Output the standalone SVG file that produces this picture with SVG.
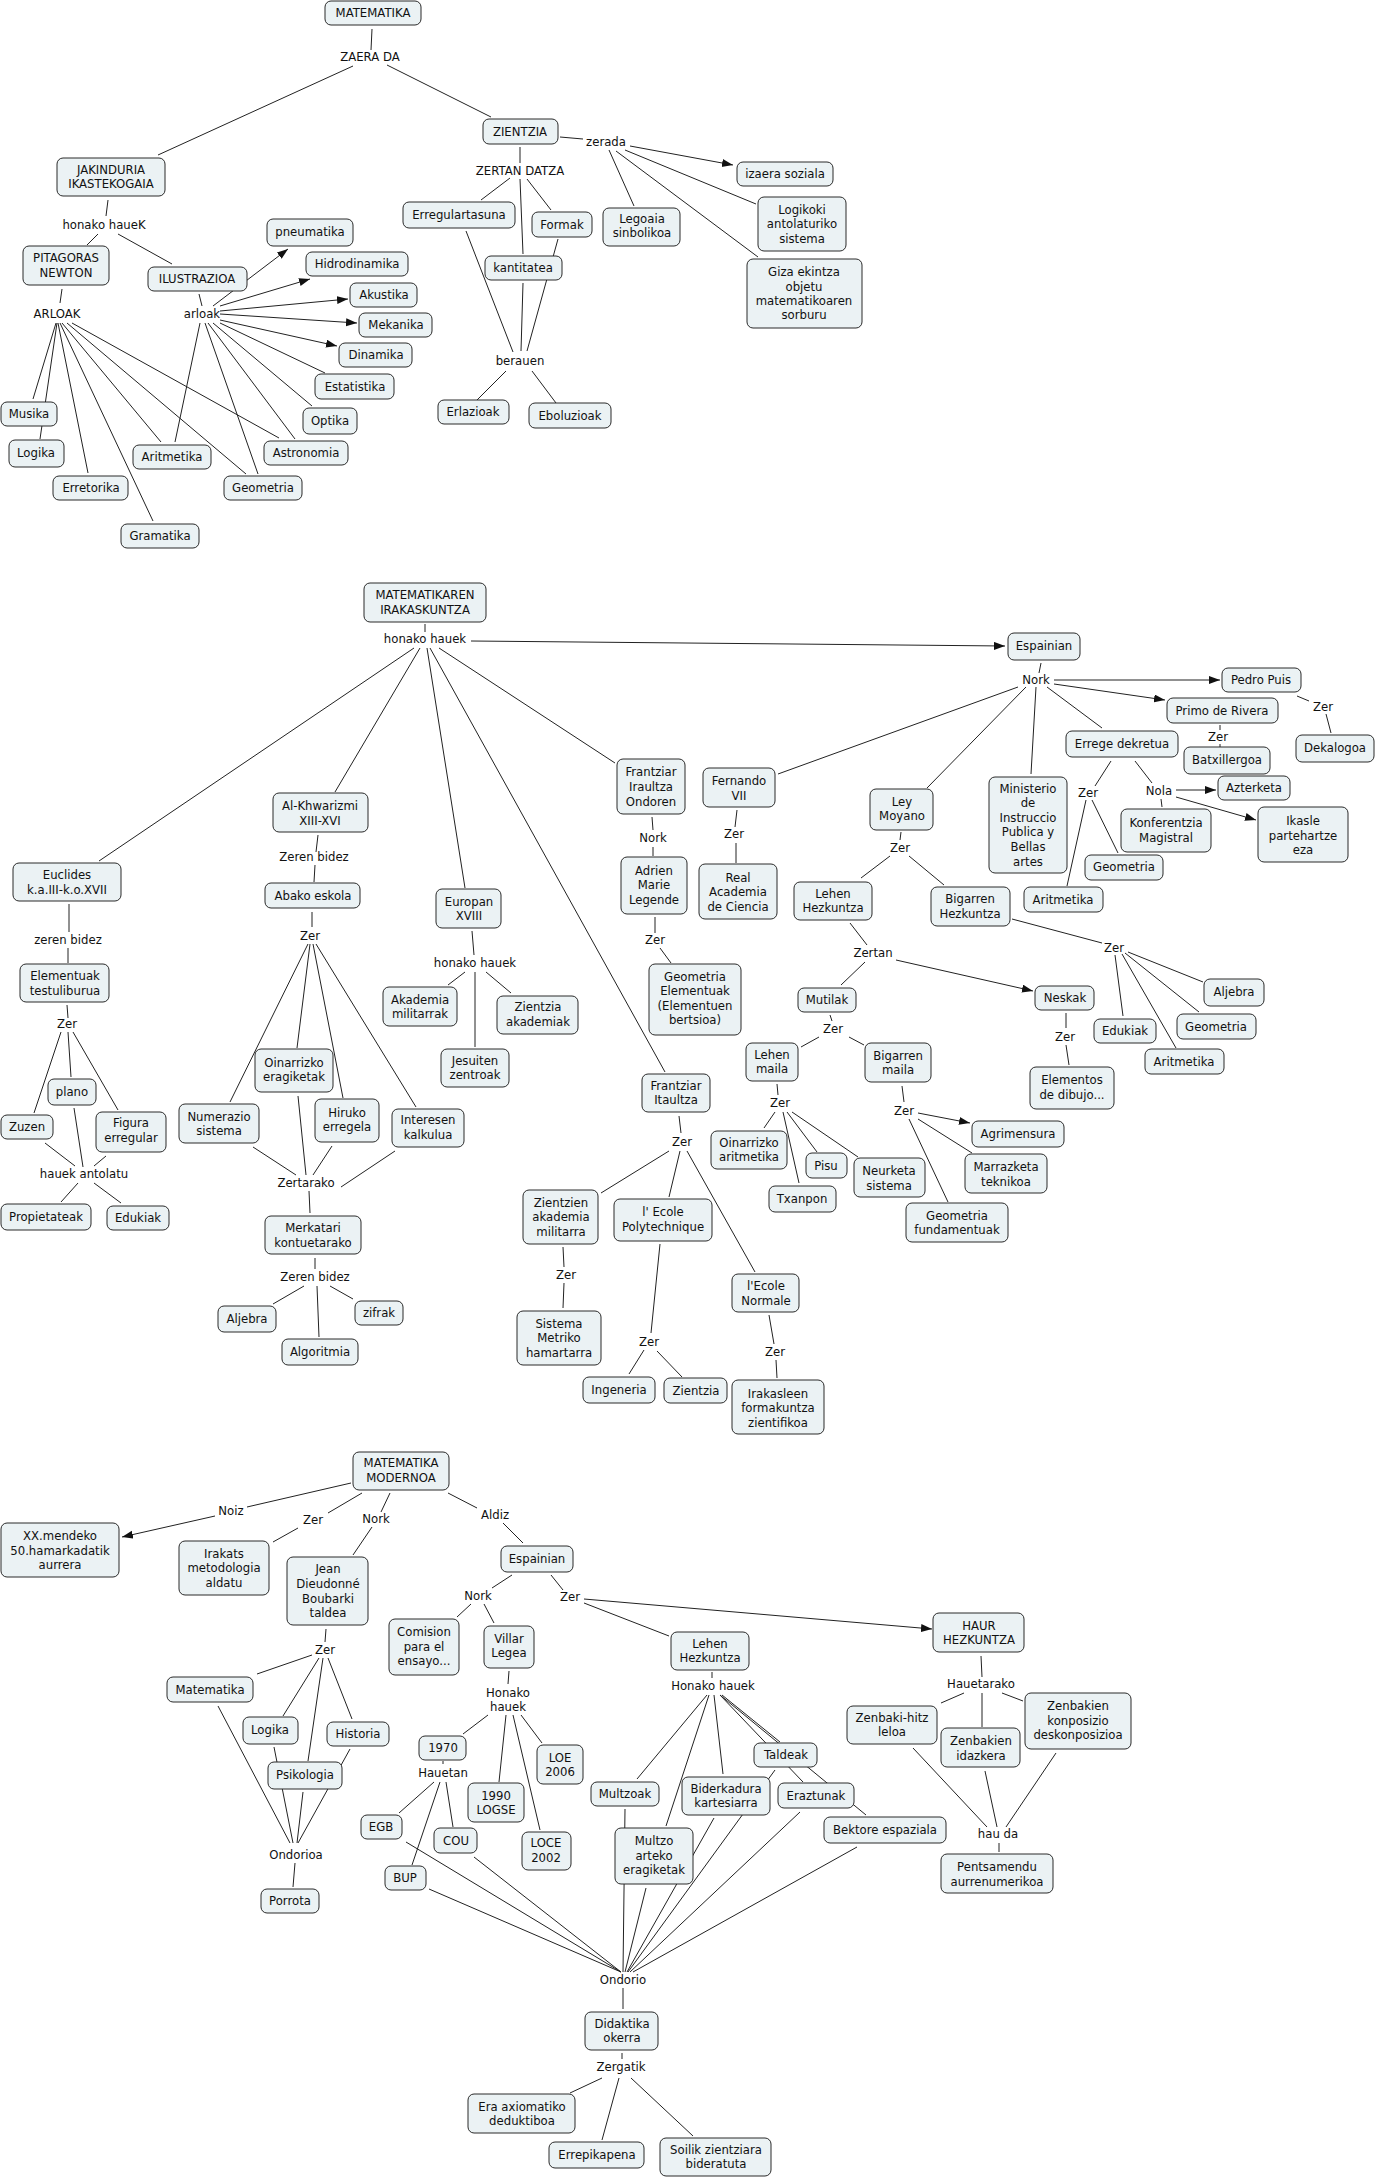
<svg xmlns="http://www.w3.org/2000/svg" width="1377" height="2179" viewBox="0 0 1377 2179">
<style>
.nd rect{fill:#ebf2f4;stroke:#2a2a2a;stroke-width:1;rx:6px;ry:6px}
text{font-family:"DejaVu Sans",Verdana,sans-serif;font-size:11.7px;fill:#111;text-anchor:middle}
#links line{stroke:#222;stroke-width:1}
#links line.ar{marker-end:url(#ah)}
</style>
<defs>
<marker id="ah" markerWidth="12" markerHeight="9" refX="11" refY="4" orient="auto" markerUnits="userSpaceOnUse"><path d="M0,0 L11,4 L0,8 z" fill="#111"/></marker>
</defs>
<rect width="1377" height="2179" fill="#fff"/>
<g id="links">
<!-- section 1 -->
<line x1="372" y1="29" x2="371" y2="50"/>
<line x1="353" y1="66" x2="158" y2="155"/>
<line x1="387" y1="65" x2="491" y2="117"/>
<line x1="108" y1="200" x2="106" y2="216"/>
<line x1="98" y1="234" x2="87" y2="245"/>
<line x1="118" y1="234" x2="172" y2="264"/>
<line x1="62" y1="289" x2="60" y2="303"/>
<line x1="199" y1="294" x2="202" y2="306"/>
<line class="ar" x1="213" y1="306" x2="288" y2="249"/>
<line class="ar" x1="220" y1="306" x2="310" y2="279"/>
<line class="ar" x1="220" y1="311" x2="348" y2="299"/>
<line class="ar" x1="220" y1="314" x2="357" y2="323"/>
<line class="ar" x1="220" y1="320" x2="337" y2="346"/>
<line x1="220" y1="323" x2="325" y2="373"/>
<line x1="213" y1="323" x2="312" y2="406"/>
<line x1="208" y1="323" x2="295" y2="439"/>
<line x1="205" y1="323" x2="258" y2="474"/>
<line x1="200" y1="323" x2="175" y2="442"/>
<line x1="56" y1="323" x2="33" y2="399"/>
<line x1="57" y1="323" x2="40" y2="439"/>
<line x1="58" y1="323" x2="88" y2="473"/>
<line x1="60" y1="323" x2="153" y2="521"/>
<line x1="62" y1="323" x2="161" y2="442"/>
<line x1="67" y1="323" x2="246" y2="474"/>
<line x1="72" y1="323" x2="279" y2="438"/>
<line x1="560" y1="137" x2="583" y2="139"/>
<line class="ar" x1="630" y1="146" x2="733" y2="165"/>
<line x1="609" y1="150" x2="634" y2="206"/>
<line x1="625" y1="150" x2="756" y2="204"/>
<line x1="616" y1="151" x2="758" y2="257"/>
<line x1="520" y1="147" x2="520" y2="163"/>
<line x1="510" y1="178" x2="481" y2="200"/>
<line x1="527" y1="179" x2="551" y2="210"/>
<line x1="520" y1="179" x2="523" y2="254"/>
<line x1="466" y1="231" x2="513" y2="352"/>
<line x1="523" y1="283" x2="521" y2="351"/>
<line x1="558" y1="239" x2="527" y2="351"/>
<line x1="506" y1="371" x2="477" y2="400"/>
<line x1="532" y1="371" x2="556" y2="403"/>
<!-- section 2 -->
<line x1="425" y1="624" x2="425" y2="632"/>
<line class="ar" x1="471" y1="641" x2="1005" y2="646"/>
<line x1="414" y1="648" x2="99" y2="861"/>
<line x1="420" y1="648" x2="335" y2="792"/>
<line x1="427" y1="648" x2="465" y2="888"/>
<line x1="439" y1="648" x2="615" y2="763"/>
<line x1="430" y1="648" x2="665" y2="1072"/>
<line x1="69" y1="904" x2="69" y2="932"/>
<line x1="68" y1="948" x2="68" y2="963"/>
<line x1="67" y1="1005" x2="68" y2="1018"/>
<line x1="61" y1="1032" x2="34" y2="1113"/>
<line x1="68" y1="1032" x2="71" y2="1077"/>
<line x1="73" y1="1032" x2="118" y2="1110"/>
<line x1="45" y1="1143" x2="75" y2="1166"/>
<line x1="74" y1="1108" x2="83" y2="1167"/>
<line x1="106" y1="1156" x2="94" y2="1166"/>
<line x1="78" y1="1183" x2="61" y2="1202"/>
<line x1="94" y1="1183" x2="121" y2="1203"/>
<line x1="318" y1="835" x2="316" y2="852"/>
<line x1="315" y1="865" x2="314" y2="882"/>
<line x1="312" y1="912" x2="312" y2="927"/>
<line x1="308" y1="944" x2="230" y2="1102"/>
<line x1="310" y1="944" x2="297" y2="1048"/>
<line x1="313" y1="944" x2="343" y2="1098"/>
<line x1="316" y1="944" x2="416" y2="1107"/>
<line x1="253" y1="1147" x2="296" y2="1175"/>
<line x1="298" y1="1096" x2="306" y2="1175"/>
<line x1="332" y1="1146" x2="313" y2="1175"/>
<line x1="395" y1="1151" x2="341" y2="1187"/>
<line x1="309" y1="1191" x2="310" y2="1213"/>
<line x1="315" y1="1258" x2="315" y2="1269"/>
<line x1="304" y1="1286" x2="273" y2="1304"/>
<line x1="317" y1="1286" x2="319" y2="1337"/>
<line x1="330" y1="1286" x2="353" y2="1299"/>
<line x1="472" y1="931" x2="474" y2="955"/>
<line x1="465" y1="972" x2="448" y2="985"/>
<line x1="475" y1="972" x2="475" y2="1047"/>
<line x1="486" y1="972" x2="511" y2="993"/>
<line x1="652" y1="817" x2="653" y2="830"/>
<line x1="653" y1="847" x2="653" y2="856"/>
<line x1="655" y1="917" x2="655" y2="933"/>
<line x1="660" y1="948" x2="671" y2="963"/>
<line x1="679" y1="1116" x2="681" y2="1133"/>
<line x1="669" y1="1151" x2="601" y2="1193"/>
<line x1="680" y1="1151" x2="669" y2="1197"/>
<line x1="687" y1="1151" x2="755" y2="1272"/>
<line x1="563" y1="1247" x2="564" y2="1267"/>
<line x1="564" y1="1283" x2="563" y2="1308"/>
<line x1="660" y1="1244" x2="651" y2="1333"/>
<line x1="644" y1="1350" x2="629" y2="1374"/>
<line x1="657" y1="1351" x2="682" y2="1377"/>
<line x1="769" y1="1315" x2="774" y2="1344"/>
<line x1="776" y1="1360" x2="777" y2="1378"/>
<line x1="1041" y1="663" x2="1039" y2="673"/>
<line class="ar" x1="1054" y1="680" x2="1220" y2="680"/>
<line class="ar" x1="1054" y1="684" x2="1165" y2="700"/>
<line x1="1220" y1="725" x2="1220" y2="730"/>
<line x1="1220" y1="744" x2="1220" y2="747"/>
<line x1="1297" y1="696" x2="1309" y2="701"/>
<line x1="1326" y1="714" x2="1331" y2="733"/>
<line x1="1047" y1="687" x2="1102" y2="728"/>
<line x1="1111" y1="761" x2="1095" y2="786"/>
<line x1="1086" y1="800" x2="1067" y2="886"/>
<line x1="1092" y1="800" x2="1118" y2="853"/>
<line x1="1135" y1="761" x2="1152" y2="783"/>
<line class="ar" x1="1176" y1="790" x2="1216" y2="790"/>
<line class="ar" x1="1176" y1="797" x2="1256" y2="820"/>
<line x1="1161" y1="799" x2="1162" y2="807"/>
<line x1="1036" y1="687" x2="1031" y2="774"/>
<line x1="1026" y1="687" x2="927" y2="788"/>
<line x1="1018" y1="687" x2="778" y2="774"/>
<line x1="737" y1="810" x2="735" y2="827"/>
<line x1="736" y1="843" x2="736" y2="863"/>
<line x1="901" y1="832" x2="900" y2="840"/>
<line x1="890" y1="856" x2="861" y2="878"/>
<line x1="909" y1="856" x2="944" y2="885"/>
<line x1="850" y1="923" x2="867" y2="945"/>
<line x1="865" y1="962" x2="841" y2="985"/>
<line class="ar" x1="896" y1="960" x2="1033" y2="991"/>
<line x1="1012" y1="919" x2="1102" y2="943"/>
<line x1="1128" y1="952" x2="1203" y2="982"/>
<line x1="1125" y1="953" x2="1199" y2="1012"/>
<line x1="1115" y1="955" x2="1123" y2="1016"/>
<line x1="1122" y1="954" x2="1176" y2="1048"/>
<line x1="1066" y1="1013" x2="1066" y2="1028"/>
<line x1="1066" y1="1045" x2="1069" y2="1065"/>
<line x1="830" y1="1015" x2="832" y2="1021"/>
<line x1="819" y1="1037" x2="801" y2="1047"/>
<line x1="849" y1="1037" x2="864" y2="1045"/>
<line x1="777" y1="1084" x2="778" y2="1095"/>
<line x1="775" y1="1112" x2="764" y2="1128"/>
<line x1="783" y1="1112" x2="799" y2="1183"/>
<line x1="787" y1="1112" x2="817" y2="1152"/>
<line x1="792" y1="1112" x2="858" y2="1157"/>
<line x1="902" y1="1086" x2="904" y2="1102"/>
<line class="ar" x1="918" y1="1113" x2="970" y2="1123"/>
<line x1="918" y1="1119" x2="972" y2="1153"/>
<line x1="909" y1="1119" x2="948" y2="1202"/>
<!-- section 3 -->
<line x1="351" y1="1483" x2="247" y2="1507"/>
<line class="ar" x1="215" y1="1516" x2="122" y2="1537"/>
<line x1="362" y1="1493" x2="328" y2="1513"/>
<line x1="298" y1="1528" x2="273" y2="1542"/>
<line x1="390" y1="1493" x2="381" y2="1512"/>
<line x1="372" y1="1527" x2="353" y2="1555"/>
<line x1="448" y1="1493" x2="477" y2="1508"/>
<line x1="503" y1="1523" x2="523" y2="1543"/>
<line x1="326" y1="1629" x2="325" y2="1642"/>
<line x1="312" y1="1655" x2="257" y2="1674"/>
<line x1="319" y1="1658" x2="283" y2="1716"/>
<line x1="323" y1="1658" x2="308" y2="1761"/>
<line x1="328" y1="1658" x2="352" y2="1719"/>
<line x1="218" y1="1706" x2="290" y2="1843"/>
<line x1="274" y1="1747" x2="293" y2="1843"/>
<line x1="303" y1="1792" x2="297" y2="1843"/>
<line x1="350" y1="1749" x2="298" y2="1843"/>
<line x1="295" y1="1863" x2="293" y2="1887"/>
<line x1="512" y1="1575" x2="492" y2="1588"/>
<line x1="551" y1="1575" x2="563" y2="1590"/>
<line x1="471" y1="1604" x2="457" y2="1617"/>
<line x1="484" y1="1604" x2="494" y2="1623"/>
<line x1="509" y1="1671" x2="508" y2="1684"/>
<line x1="488" y1="1715" x2="463" y2="1734"/>
<line x1="506" y1="1715" x2="499" y2="1782"/>
<line x1="513" y1="1715" x2="540" y2="1830"/>
<line x1="521" y1="1715" x2="542" y2="1743"/>
<line x1="443" y1="1761" x2="443" y2="1764"/>
<line x1="434" y1="1782" x2="399" y2="1813"/>
<line x1="440" y1="1782" x2="412" y2="1865"/>
<line x1="446" y1="1782" x2="453" y2="1827"/>
<line x1="406" y1="1842" x2="621" y2="1972"/>
<line x1="429" y1="1889" x2="621" y2="1972"/>
<line x1="474" y1="1857" x2="621" y2="1972"/>
<line x1="584" y1="1603" x2="669" y2="1636"/>
<line class="ar" x1="584" y1="1599" x2="932" y2="1629"/>
<line x1="712" y1="1672" x2="712" y2="1678"/>
<line x1="707" y1="1695" x2="637" y2="1779"/>
<line x1="709" y1="1695" x2="666" y2="1826"/>
<line x1="714" y1="1695" x2="723" y2="1774"/>
<line x1="722" y1="1695" x2="780" y2="1742"/>
<line x1="720" y1="1695" x2="803" y2="1782"/>
<line x1="720" y1="1695" x2="866" y2="1815"/>
<line x1="625" y1="1809" x2="623" y2="1972"/>
<line x1="646" y1="1888" x2="625" y2="1972"/>
<line x1="714" y1="1818" x2="627" y2="1972"/>
<line x1="775" y1="1770" x2="628" y2="1972"/>
<line x1="800" y1="1812" x2="630" y2="1972"/>
<line x1="857" y1="1847" x2="633" y2="1972"/>
<line x1="623" y1="1988" x2="623" y2="2009"/>
<line x1="622" y1="2053" x2="622" y2="2059"/>
<line x1="602" y1="2078" x2="570" y2="2093"/>
<line x1="619" y1="2078" x2="602" y2="2140"/>
<line x1="631" y1="2078" x2="693" y2="2136"/>
<line x1="981" y1="1656" x2="982" y2="1677"/>
<line x1="964" y1="1693" x2="941" y2="1703"/>
<line x1="982" y1="1693" x2="982" y2="1727"/>
<line x1="1002" y1="1693" x2="1023" y2="1701"/>
<line x1="913" y1="1748" x2="987" y2="1827"/>
<line x1="985" y1="1771" x2="997" y2="1827"/>
<line x1="1056" y1="1753" x2="1006" y2="1827"/>
<line x1="999" y1="1843" x2="999" y2="1852"/>
</g>
<g id="link-labels">
<text x="370" y="61">ZAERA DA</text>
<text x="104" y="229">honako haueK</text>
<text x="57" y="318">ARLOAK</text>
<text x="202" y="318">arloak</text>
<text x="606" y="146">zerada</text>
<text x="520" y="175">ZERTAN DATZA</text>
<text x="520" y="365">berauen</text>
<text x="425" y="643">honako hauek</text>
<text x="68" y="944">zeren bidez</text>
<text x="67" y="1028">Zer</text>
<text x="84" y="1178">hauek antolatu</text>
<text x="314" y="861">Zeren bidez</text>
<text x="310" y="940">Zer</text>
<text x="306" y="1187">Zertarako</text>
<text x="315" y="1281">Zeren bidez</text>
<text x="475" y="967">honako hauek</text>
<text x="653" y="842">Nork</text>
<text x="655" y="944">Zer</text>
<text x="682" y="1146">Zer</text>
<text x="566" y="1279">Zer</text>
<text x="649" y="1346">Zer</text>
<text x="775" y="1356">Zer</text>
<text x="734" y="838">Zer</text>
<text x="1036" y="684">Nork</text>
<text x="1218" y="741">Zer</text>
<text x="1323" y="711">Zer</text>
<text x="1088" y="797">Zer</text>
<text x="1159" y="795">Nola</text>
<text x="900" y="852">Zer</text>
<text x="873" y="957">Zertan</text>
<text x="1114" y="952">Zer</text>
<text x="1065" y="1041">Zer</text>
<text x="833" y="1033">Zer</text>
<text x="780" y="1107">Zer</text>
<text x="904" y="1115">Zer</text>
<text x="231" y="1515">Noiz</text>
<text x="313" y="1524">Zer</text>
<text x="376" y="1523">Nork</text>
<text x="495" y="1519">Aldiz</text>
<text x="325" y="1654">Zer</text>
<text x="296" y="1859">Ondorioa</text>
<text x="478" y="1600">Nork</text>
<text x="570" y="1601">Zer</text>
<text><tspan x="508" y="1697">Honako</tspan><tspan x="508" y="1711">hauek</tspan></text>
<text x="443" y="1777">Hauetan</text>
<text x="713" y="1690">Honako hauek</text>
<text x="981" y="1688">Hauetarako</text>
<text x="998" y="1838">hau da</text>
<text x="623" y="1984">Ondorio</text>
<text x="621" y="2071">Zergatik</text>
</g>
<!-- section 1 nodes -->
<g id="n-matematika" class="nd"><rect x="325" y="1" width="96" height="24"/><text x="373" y="17">MATEMATIKA</text></g>
<g id="n-jakinduria" class="nd"><rect x="57" y="158" width="108" height="38"/><text><tspan x="111" y="174">JAKINDURIA</tspan><tspan x="111" y="188">IKASTEKOGAIA</tspan></text></g>
<g id="n-pitagoras" class="nd"><rect x="23" y="246" width="86" height="39"/><text><tspan x="66" y="262">PITAGORAS</tspan><tspan x="66" y="277">NEWTON</tspan></text></g>
<g id="n-ilustrazioa" class="nd"><rect x="148" y="267" width="99" height="24"/><text x="197" y="283">ILUSTRAZIOA</text></g>
<g id="n-pneumatika" class="nd"><rect x="267" y="219" width="86" height="27"/><text x="310" y="236">pneumatika</text></g>
<g id="n-hidrodinamika" class="nd"><rect x="306" y="252" width="102" height="24"/><text x="357" y="268">Hidrodinamika</text></g>
<g id="n-akustika" class="nd"><rect x="350" y="283" width="67" height="24"/><text x="384" y="299">Akustika</text></g>
<g id="n-mekanika" class="nd"><rect x="359" y="313" width="73" height="24"/><text x="396" y="329">Mekanika</text></g>
<g id="n-dinamika" class="nd"><rect x="339" y="343" width="73" height="24"/><text x="376" y="359">Dinamika</text></g>
<g id="n-estatistika" class="nd"><rect x="315" y="374" width="79" height="25"/><text x="355" y="391">Estatistika</text></g>
<g id="n-optika" class="nd"><rect x="303" y="408" width="54" height="26"/><text x="330" y="425">Optika</text></g>
<g id="n-astronomia" class="nd"><rect x="264" y="441" width="84" height="24"/><text x="306" y="457">Astronomia</text></g>
<g id="n-geometria1" class="nd"><rect x="224" y="476" width="78" height="24"/><text x="263" y="492">Geometria</text></g>
<g id="n-aritmetika1" class="nd"><rect x="133" y="445" width="78" height="24"/><text x="172" y="461">Aritmetika</text></g>
<g id="n-gramatika" class="nd"><rect x="121" y="524" width="78" height="24"/><text x="160" y="540">Gramatika</text></g>
<g id="n-erretorika" class="nd"><rect x="53" y="476" width="75" height="24"/><text x="91" y="492">Erretorika</text></g>
<g id="n-logika1" class="nd"><rect x="9" y="440" width="55" height="27"/><text x="36" y="457">Logika</text></g>
<g id="n-musika" class="nd"><rect x="1" y="402" width="56" height="24"/><text x="29" y="418">Musika</text></g>
<g id="n-zientzia" class="nd"><rect x="483" y="119" width="75" height="25"/><text x="520" y="136">ZIENTZIA</text></g>
<g id="n-izaera" class="nd"><rect x="737" y="162" width="96" height="24"/><text x="785" y="178">izaera soziala</text></g>
<g id="n-legoaia" class="nd"><rect x="603" y="208" width="77" height="38"/><text><tspan x="642" y="223">Legoaia</tspan><tspan x="642" y="237">sinbolikoa</tspan></text></g>
<g id="n-logikoki" class="nd"><rect x="758" y="197" width="88" height="54"/><text><tspan x="802" y="214">Logikoki</tspan><tspan x="802" y="228">antolaturiko</tspan><tspan x="802" y="243">sistema</tspan></text></g>
<g id="n-giza" class="nd"><rect x="747" y="259" width="115" height="69"/><text><tspan x="804" y="276">Giza ekintza</tspan><tspan x="804" y="291">objetu</tspan><tspan x="804" y="305">matematikoaren</tspan><tspan x="804" y="319">sorburu</tspan></text></g>
<g id="n-erregulartasuna" class="nd"><rect x="403" y="202" width="112" height="26"/><text x="459" y="219">Erregulartasuna</text></g>
<g id="n-formak" class="nd"><rect x="532" y="212" width="60" height="25"/><text x="562" y="229">Formak</text></g>
<g id="n-kantitatea" class="nd"><rect x="485" y="256" width="77" height="24"/><text x="523" y="272">kantitatea</text></g>
<g id="n-erlazioak" class="nd"><rect x="438" y="400" width="71" height="24"/><text x="473" y="416">Erlazioak</text></g>
<g id="n-eboluzioak" class="nd"><rect x="529" y="403" width="82" height="25"/><text x="570" y="420">Eboluzioak</text></g>
<!-- section 2 nodes -->
<g id="n-irakaskuntza" class="nd"><rect x="364" y="583" width="122" height="39"/><text><tspan x="425" y="599">MATEMATIKAREN</tspan><tspan x="425" y="614">IRAKASKUNTZA</tspan></text></g>
<g id="n-euclides" class="nd"><rect x="13" y="863" width="108" height="38"/><text><tspan x="67" y="879">Euclides</tspan><tspan x="67" y="894">k.a.III-k.o.XVII</tspan></text></g>
<g id="n-elementuak" class="nd"><rect x="20" y="964" width="89" height="38"/><text><tspan x="65" y="980">Elementuak</tspan><tspan x="65" y="995">testuliburua</tspan></text></g>
<g id="n-zuzen" class="nd"><rect x="1" y="1115" width="52" height="24"/><text x="27" y="1131">Zuzen</text></g>
<g id="n-plano" class="nd"><rect x="48" y="1079" width="48" height="26"/><text x="72" y="1096">plano</text></g>
<g id="n-figura" class="nd"><rect x="96" y="1112" width="70" height="40"/><text><tspan x="131" y="1127">Figura</tspan><tspan x="131" y="1142">erregular</tspan></text></g>
<g id="n-propietateak" class="nd"><rect x="1" y="1204" width="90" height="26"/><text x="46" y="1221">Propietateak</text></g>
<g id="n-edukiak1" class="nd"><rect x="107" y="1206" width="62" height="24"/><text x="138" y="1222">Edukiak</text></g>
<g id="n-alkhwarizmi" class="nd"><rect x="273" y="793" width="95" height="39"/><text><tspan x="320" y="810">Al-Khwarizmi</tspan><tspan x="320" y="825">XIII-XVI</tspan></text></g>
<g id="n-abako" class="nd"><rect x="265" y="883" width="95" height="25"/><text x="313" y="900">Abako eskola</text></g>
<g id="n-oinarrizko-eragiketak" class="nd"><rect x="255" y="1049" width="78" height="43"/><text><tspan x="294" y="1067">Oinarrizko</tspan><tspan x="294" y="1081">eragiketak</tspan></text></g>
<g id="n-numerazio" class="nd"><rect x="179" y="1104" width="80" height="39"/><text><tspan x="219" y="1121">Numerazio</tspan><tspan x="219" y="1135">sistema</tspan></text></g>
<g id="n-hiruko" class="nd"><rect x="315" y="1099" width="64" height="43"/><text><tspan x="347" y="1117">Hiruko</tspan><tspan x="347" y="1131">erregela</tspan></text></g>
<g id="n-interesen" class="nd"><rect x="392" y="1109" width="72" height="38"/><text><tspan x="428" y="1124">Interesen</tspan><tspan x="428" y="1139">kalkulua</tspan></text></g>
<g id="n-merkatari" class="nd"><rect x="265" y="1216" width="96" height="38"/><text><tspan x="313" y="1232">Merkatari</tspan><tspan x="313" y="1247">kontuetarako</tspan></text></g>
<g id="n-aljebra1" class="nd"><rect x="218" y="1306" width="58" height="26"/><text x="247" y="1323">Aljebra</text></g>
<g id="n-zifrak" class="nd"><rect x="355" y="1301" width="48" height="24"/><text x="379" y="1317">zifrak</text></g>
<g id="n-algoritmia" class="nd"><rect x="282" y="1339" width="76" height="26"/><text x="320" y="1356">Algoritmia</text></g>
<g id="n-europan" class="nd"><rect x="436" y="889" width="65" height="39"/><text><tspan x="469" y="906">Europan</tspan><tspan x="469" y="920">XVIII</tspan></text></g>
<g id="n-akademia" class="nd"><rect x="383" y="987" width="74" height="39"/><text><tspan x="420" y="1004">Akademia</tspan><tspan x="420" y="1018">militarrak</tspan></text></g>
<g id="n-zientzia-akademiak" class="nd"><rect x="497" y="996" width="81" height="38"/><text><tspan x="538" y="1011">Zientzia</tspan><tspan x="538" y="1026">akademiak</tspan></text></g>
<g id="n-jesuiten" class="nd"><rect x="441" y="1049" width="68" height="38"/><text><tspan x="475" y="1065">Jesuiten</tspan><tspan x="475" y="1079">zentroak</tspan></text></g>
<g id="n-frantziar-iraultza" class="nd"><rect x="617" y="759" width="68" height="55"/><text><tspan x="651" y="776">Frantziar</tspan><tspan x="651" y="791">Iraultza</tspan><tspan x="651" y="806">Ondoren</tspan></text></g>
<g id="n-adrien" class="nd"><rect x="621" y="857" width="66" height="57"/><text><tspan x="654" y="875">Adrien</tspan><tspan x="654" y="889">Marie</tspan><tspan x="654" y="904">Legende</tspan></text></g>
<g id="n-geometria-elementuak" class="nd"><rect x="649" y="964" width="92" height="71"/><text><tspan x="695" y="981">Geometria</tspan><tspan x="695" y="995">Elementuak</tspan><tspan x="695" y="1010">(Elementuen</tspan><tspan x="695" y="1024">bertsioa)</tspan></text></g>
<g id="n-frantziar-itaultza" class="nd"><rect x="642" y="1074" width="68" height="38"/><text><tspan x="676" y="1090">Frantziar</tspan><tspan x="676" y="1104">Itaultza</tspan></text></g>
<g id="n-zientzien" class="nd"><rect x="523" y="1190" width="75" height="54"/><text><tspan x="561" y="1207">Zientzien</tspan><tspan x="561" y="1221">akademia</tspan><tspan x="561" y="1236">militarra</tspan></text></g>
<g id="n-sistema-metriko" class="nd"><rect x="517" y="1311" width="84" height="54"/><text><tspan x="559" y="1328">Sistema</tspan><tspan x="559" y="1342">Metriko</tspan><tspan x="559" y="1357">hamartarra</tspan></text></g>
<g id="n-polytechnique" class="nd"><rect x="614" y="1199" width="98" height="42"/><text><tspan x="663" y="1216">l' Ecole</tspan><tspan x="663" y="1231">Polytechnique</tspan></text></g>
<g id="n-ingeneria" class="nd"><rect x="583" y="1377" width="72" height="26"/><text x="619" y="1394">Ingeneria</text></g>
<g id="n-zientzia2" class="nd"><rect x="664" y="1378" width="63" height="25"/><text x="696" y="1395">Zientzia</text></g>
<g id="n-normale" class="nd"><rect x="732" y="1274" width="67" height="38"/><text><tspan x="766" y="1290">l'Ecole</tspan><tspan x="766" y="1305">Normale</tspan></text></g>
<g id="n-irakasleen" class="nd"><rect x="732" y="1380" width="92" height="54"/><text><tspan x="778" y="1398">Irakasleen</tspan><tspan x="778" y="1412">formakuntza</tspan><tspan x="778" y="1427">zientifikoa</tspan></text></g>
<g id="n-fernando" class="nd"><rect x="703" y="768" width="72" height="39"/><text><tspan x="739" y="785">Fernando</tspan><tspan x="739" y="800">VII</tspan></text></g>
<g id="n-real-academia" class="nd"><rect x="699" y="864" width="78" height="55"/><text><tspan x="738" y="882">Real</tspan><tspan x="738" y="896">Academia</tspan><tspan x="738" y="911">de Ciencia</tspan></text></g>
<g id="n-espainian1" class="nd"><rect x="1008" y="633" width="72" height="27"/><text x="1044" y="650">Espainian</text></g>
<g id="n-pedro" class="nd"><rect x="1222" y="668" width="79" height="24"/><text x="1261" y="684">Pedro Puis</text></g>
<g id="n-primo" class="nd"><rect x="1167" y="698" width="111" height="25"/><text x="1222" y="715">Primo de Rivera</text></g>
<g id="n-batxillergoa" class="nd"><rect x="1184" y="747" width="86" height="27"/><text x="1227" y="764">Batxillergoa</text></g>
<g id="n-dekalogoa" class="nd"><rect x="1296" y="735" width="78" height="27"/><text x="1335" y="752">Dekalogoa</text></g>
<g id="n-errege" class="nd"><rect x="1066" y="731" width="112" height="26"/><text x="1122" y="748">Errege dekretua</text></g>
<g id="n-geometria2" class="nd"><rect x="1085" y="855" width="78" height="25"/><text x="1124" y="871">Geometria</text></g>
<g id="n-aritmetika2" class="nd"><rect x="1024" y="887" width="79" height="25"/><text x="1063" y="904">Aritmetika</text></g>
<g id="n-azterketa" class="nd"><rect x="1218" y="776" width="72" height="24"/><text x="1254" y="792">Azterketa</text></g>
<g id="n-ikasle" class="nd"><rect x="1258" y="807" width="90" height="55"/><text><tspan x="1303" y="825">Ikasle</tspan><tspan x="1303" y="840">partehartze</tspan><tspan x="1303" y="854">eza</tspan></text></g>
<g id="n-konferentzia" class="nd"><rect x="1121" y="809" width="90" height="43"/><text><tspan x="1166" y="827">Konferentzia</tspan><tspan x="1166" y="842">Magistral</tspan></text></g>
<g id="n-ministerio" class="nd"><rect x="989" y="777" width="78" height="96"/><text><tspan x="1028" y="793">Ministerio</tspan><tspan x="1028" y="807">de</tspan><tspan x="1028" y="822">Instruccio</tspan><tspan x="1028" y="836">Publica y</tspan><tspan x="1028" y="851">Bellas</tspan><tspan x="1028" y="866">artes</tspan></text></g>
<g id="n-ley-moyano" class="nd"><rect x="870" y="789" width="63" height="41"/><text><tspan x="902" y="806">Ley</tspan><tspan x="902" y="820">Moyano</tspan></text></g>
<g id="n-lehen-hezkuntza1" class="nd"><rect x="794" y="882" width="78" height="38"/><text><tspan x="833" y="898">Lehen</tspan><tspan x="833" y="912">Hezkuntza</tspan></text></g>
<g id="n-bigarren-hezkuntza" class="nd"><rect x="931" y="887" width="79" height="39"/><text><tspan x="970" y="903">Bigarren</tspan><tspan x="970" y="918">Hezkuntza</tspan></text></g>
<g id="n-mutilak" class="nd"><rect x="798" y="988" width="58" height="24"/><text x="827" y="1004">Mutilak</text></g>
<g id="n-neskak" class="nd"><rect x="1035" y="986" width="59" height="24"/><text x="1065" y="1002">Neskak</text></g>
<g id="n-elementos" class="nd"><rect x="1030" y="1067" width="84" height="42"/><text><tspan x="1072" y="1084">Elementos</tspan><tspan x="1072" y="1099">de dibujo...</tspan></text></g>
<g id="n-aljebra2" class="nd"><rect x="1204" y="979" width="60" height="27"/><text x="1234" y="996">Aljebra</text></g>
<g id="n-geometria3" class="nd"><rect x="1177" y="1014" width="79" height="25"/><text x="1216" y="1031">Geometria</text></g>
<g id="n-edukiak2" class="nd"><rect x="1094" y="1019" width="62" height="24"/><text x="1125" y="1035">Edukiak</text></g>
<g id="n-aritmetika3" class="nd"><rect x="1145" y="1049" width="79" height="25"/><text x="1184" y="1066">Aritmetika</text></g>
<g id="n-lehen-maila" class="nd"><rect x="746" y="1043" width="52" height="38"/><text><tspan x="772" y="1059">Lehen</tspan><tspan x="772" y="1073">maila</tspan></text></g>
<g id="n-bigarren-maila" class="nd"><rect x="865" y="1043" width="66" height="39"/><text><tspan x="898" y="1060">Bigarren</tspan><tspan x="898" y="1074">maila</tspan></text></g>
<g id="n-oinarrizko-aritmetika" class="nd"><rect x="711" y="1131" width="76" height="38"/><text><tspan x="749" y="1147">Oinarrizko</tspan><tspan x="749" y="1161">aritmetika</tspan></text></g>
<g id="n-txanpon" class="nd"><rect x="769" y="1186" width="67" height="26"/><text x="802" y="1203">Txanpon</text></g>
<g id="n-pisu" class="nd"><rect x="806" y="1153" width="41" height="25"/><text x="826" y="1170">Pisu</text></g>
<g id="n-neurketa" class="nd"><rect x="854" y="1158" width="71" height="39"/><text><tspan x="889" y="1175">Neurketa</tspan><tspan x="889" y="1190">sistema</tspan></text></g>
<g id="n-agrimensura" class="nd"><rect x="972" y="1121" width="92" height="26"/><text x="1018" y="1138">Agrimensura</text></g>
<g id="n-marrazketa" class="nd"><rect x="965" y="1154" width="82" height="39"/><text><tspan x="1006" y="1171">Marrazketa</tspan><tspan x="1006" y="1186">teknikoa</tspan></text></g>
<g id="n-geometria-fund" class="nd"><rect x="906" y="1203" width="102" height="39"/><text><tspan x="957" y="1220">Geometria</tspan><tspan x="957" y="1234">fundamentuak</tspan></text></g>
<!-- section 3 nodes -->
<g id="n-modernoa" class="nd"><rect x="353" y="1452" width="96" height="38"/><text><tspan x="401" y="1467">MATEMATIKA</tspan><tspan x="401" y="1482">MODERNOA</tspan></text></g>
<g id="n-xx" class="nd"><rect x="1" y="1523" width="118" height="54"/><text><tspan x="60" y="1540">XX.mendeko</tspan><tspan x="60" y="1555">50.hamarkadatik</tspan><tspan x="60" y="1569">aurrera</tspan></text></g>
<g id="n-irakats" class="nd"><rect x="179" y="1541" width="90" height="54"/><text><tspan x="224" y="1558">Irakats</tspan><tspan x="224" y="1572">metodologia</tspan><tspan x="224" y="1587">aldatu</tspan></text></g>
<g id="n-jean" class="nd"><rect x="287" y="1557" width="81" height="68"/><text><tspan x="328" y="1573">Jean</tspan><tspan x="328" y="1588">Dieudonné</tspan><tspan x="328" y="1603">Boubarki</tspan><tspan x="328" y="1617">taldea</tspan></text></g>
<g id="n-matematika2" class="nd"><rect x="167" y="1677" width="86" height="25"/><text x="210" y="1694">Matematika</text></g>
<g id="n-logika2" class="nd"><rect x="243" y="1717" width="55" height="27"/><text x="270" y="1734">Logika</text></g>
<g id="n-psikologia" class="nd"><rect x="268" y="1762" width="74" height="27"/><text x="305" y="1779">Psikologia</text></g>
<g id="n-historia" class="nd"><rect x="327" y="1722" width="62" height="24"/><text x="358" y="1738">Historia</text></g>
<g id="n-porrota" class="nd"><rect x="261" y="1889" width="58" height="24"/><text x="290" y="1905">Porrota</text></g>
<g id="n-espainian2" class="nd"><rect x="501" y="1546" width="72" height="26"/><text x="537" y="1563">Espainian</text></g>
<g id="n-comision" class="nd"><rect x="389" y="1619" width="70" height="56"/><text><tspan x="424" y="1636">Comision</tspan><tspan x="424" y="1651">para el</tspan><tspan x="424" y="1665">ensayo...</tspan></text></g>
<g id="n-villar" class="nd"><rect x="484" y="1626" width="50" height="42"/><text><tspan x="509" y="1643">Villar</tspan><tspan x="509" y="1657">Legea</tspan></text></g>
<g id="n-1970" class="nd"><rect x="419" y="1736" width="47" height="24"/><text x="443" y="1752">1970</text></g>
<g id="n-1990" class="nd"><rect x="468" y="1783" width="56" height="39"/><text><tspan x="496" y="1800">1990</tspan><tspan x="496" y="1814">LOGSE</tspan></text></g>
<g id="n-loce" class="nd"><rect x="522" y="1832" width="49" height="38"/><text><tspan x="546" y="1847">LOCE</tspan><tspan x="546" y="1862">2002</tspan></text></g>
<g id="n-loe" class="nd"><rect x="537" y="1745" width="46" height="39"/><text><tspan x="560" y="1762">LOE</tspan><tspan x="560" y="1776">2006</tspan></text></g>
<g id="n-egb" class="nd"><rect x="361" y="1815" width="41" height="24"/><text x="381" y="1831">EGB</text></g>
<g id="n-bup" class="nd"><rect x="385" y="1866" width="41" height="24"/><text x="405" y="1882">BUP</text></g>
<g id="n-cou" class="nd"><rect x="434" y="1828" width="43" height="25"/><text x="456" y="1845">COU</text></g>
<g id="n-lehen-hezkuntza2" class="nd"><rect x="671" y="1632" width="78" height="38"/><text><tspan x="710" y="1648">Lehen</tspan><tspan x="710" y="1662">Hezkuntza</tspan></text></g>
<g id="n-multzoak" class="nd"><rect x="591" y="1782" width="68" height="24"/><text x="625" y="1798">Multzoak</text></g>
<g id="n-multzo-arteko" class="nd"><rect x="615" y="1828" width="78" height="56"/><text><tspan x="654" y="1845">Multzo</tspan><tspan x="654" y="1860">arteko</tspan><tspan x="654" y="1874">eragiketak</tspan></text></g>
<g id="n-biderkadura" class="nd"><rect x="682" y="1777" width="88" height="38"/><text><tspan x="726" y="1793">Biderkadura</tspan><tspan x="726" y="1807">kartesiarra</tspan></text></g>
<g id="n-taldeak" class="nd"><rect x="754" y="1743" width="63" height="24"/><text x="786" y="1759">Taldeak</text></g>
<g id="n-eraztunak" class="nd"><rect x="778" y="1783" width="76" height="25"/><text x="816" y="1800">Eraztunak</text></g>
<g id="n-bektore" class="nd"><rect x="824" y="1817" width="122" height="26"/><text x="885" y="1834">Bektore espaziala</text></g>
<g id="n-haur" class="nd"><rect x="933" y="1613" width="91" height="39"/><text><tspan x="979" y="1630">HAUR</tspan><tspan x="979" y="1644">HEZKUNTZA</tspan></text></g>
<g id="n-zenbaki-hitz" class="nd"><rect x="847" y="1706" width="90" height="38"/><text><tspan x="892" y="1722">Zenbaki-hitz</tspan><tspan x="892" y="1736">leloa</tspan></text></g>
<g id="n-idazkera" class="nd"><rect x="941" y="1728" width="79" height="39"/><text><tspan x="981" y="1745">Zenbakien</tspan><tspan x="981" y="1760">idazkera</tspan></text></g>
<g id="n-konposizio" class="nd"><rect x="1025" y="1693" width="106" height="56"/><text><tspan x="1078" y="1710">Zenbakien</tspan><tspan x="1078" y="1725">konposizio</tspan><tspan x="1078" y="1739">deskonposizioa</tspan></text></g>
<g id="n-pentsamendu" class="nd"><rect x="941" y="1854" width="112" height="39"/><text><tspan x="997" y="1871">Pentsamendu</tspan><tspan x="997" y="1886">aurrenumerikoa</tspan></text></g>
<g id="n-didaktika" class="nd"><rect x="585" y="2012" width="73" height="38"/><text><tspan x="622" y="2028">Didaktika</tspan><tspan x="622" y="2042">okerra</tspan></text></g>
<g id="n-era" class="nd"><rect x="468" y="2094" width="107" height="39"/><text><tspan x="522" y="2111">Era axiomatiko</tspan><tspan x="522" y="2125">deduktiboa</tspan></text></g>
<g id="n-errepikapena" class="nd"><rect x="549" y="2142" width="95" height="26"/><text x="597" y="2159">Errepikapena</text></g>
<g id="n-soilik" class="nd"><rect x="660" y="2138" width="111" height="38"/><text><tspan x="716" y="2154">Soilik zientziara</tspan><tspan x="716" y="2168">bideratuta</tspan></text></g>
</svg>
